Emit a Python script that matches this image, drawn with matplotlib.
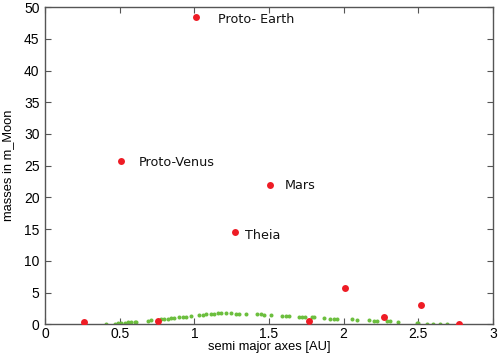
import matplotlib
matplotlib.use("Agg")
import matplotlib.pyplot as plt

# Green: distribution (semi-major axis, mass)
green_a = [0.41, 0.467, 0.489, 0.511, 0.533, 0.556, 0.578, 0.60, 0.611, 0.689, 0.711,
           0.778, 0.80, 0.822, 0.844, 0.867, 0.90, 0.922, 0.944, 0.978, 1.033, 1.056,
           1.078, 1.111, 1.133, 1.156, 1.178, 1.211, 1.244, 1.278, 1.30, 1.344, 1.422,
           1.444, 1.467, 1.511, 1.589, 1.611, 1.633, 1.70, 1.722, 1.744, 1.789, 1.80,
           1.867, 1.911, 1.933, 1.956, 2.056, 2.089, 2.167, 2.20, 2.222, 2.289, 2.311,
           2.367, 2.489, 2.50, 2.556, 2.60, 2.644, 2.689]
green_m = [0.0, 0.1, 0.21, 0.26, 0.26, 0.31, 0.37, 0.42, 0.42, 0.58, 0.63,
           0.79, 0.84, 0.89, 0.94, 1.0, 1.1, 1.15, 1.2, 1.36, 1.47, 1.52,
           1.57, 1.62, 1.68, 1.73, 1.78, 1.78, 1.73, 1.68, 1.68, 1.62, 1.57,
           1.57, 1.52, 1.47, 1.31, 1.31, 1.31, 1.2, 1.15, 1.1, 1.1, 1.1,
           0.94, 0.89, 0.84, 0.84, 0.79, 0.73, 0.63, 0.58, 0.58, 0.52, 0.47,
           0.37, 0.26, 0.21, 0.1, 0.05, 0.05, 0.05]

# Red: bodies
red_a = [0.26, 0.76, 0.51, 1.01, 1.27, 1.51, 1.77, 2.01, 2.27, 2.52, 2.77]
red_m = [0.3, 0.6, 25.8, 48.4, 14.6, 22.0, 0.5, 5.7, 1.1, 3.1, 0.1]

# Text labels (left edge x, centre y in data units)
labels = ["Proto-Venus", "Proto- Earth", "Theia", "Mars"]
label_x = [0.63, 1.16, 1.34, 1.607]
label_y = [25.5, 48.1, 14.0, 21.9]

fig = plt.figure(figsize=(5.0, 3.56), dpi=100)
ax = fig.add_axes([0.09, 0.089, 0.896, 0.891])

ax.plot(green_a, green_m, 'o', color='#6cbf3e', markersize=2.9, markeredgewidth=0, zorder=2)
ax.plot(red_a, red_m, 'o', color='#ee1c25', markersize=5.0, markeredgewidth=0, zorder=3)

for t, x, y in zip(labels, label_x, label_y):
    ax.text(x, y, t, fontsize=9.2, family='DejaVu Sans', color='#111111',
            va='center', ha='left')

ax.set_xlim(0, 3)
ax.set_ylim(0, 50)
ax.set_xticks([0, 0.5, 1, 1.5, 2, 2.5, 3])
ax.set_xticklabels(['0', '0.5', '1', '1.5', '2', '2.5', '3'])
ax.set_yticks(range(0, 51, 5))
ax.tick_params(direction='in', top=True, right=True, length=4, width=0.8,
               color='#555555', labelsize=10)
ax.tick_params(axis='x', pad=2)
ax.tick_params(axis='y', pad=4)
for lab in ax.get_xticklabels() + ax.get_yticklabels():
    lab.set_family('Liberation Sans')
for s in ax.spines.values():
    s.set_color('#555555')
    s.set_linewidth(1.0)

ax.set_xlabel('semi major axes [AU]', family='Liberation Sans', fontsize=9.3, labelpad=0)
ax.set_ylabel('masses in m_Moon', family='Liberation Sans', fontsize=9.3, labelpad=7)

fig.savefig('out.png', dpi=100)
